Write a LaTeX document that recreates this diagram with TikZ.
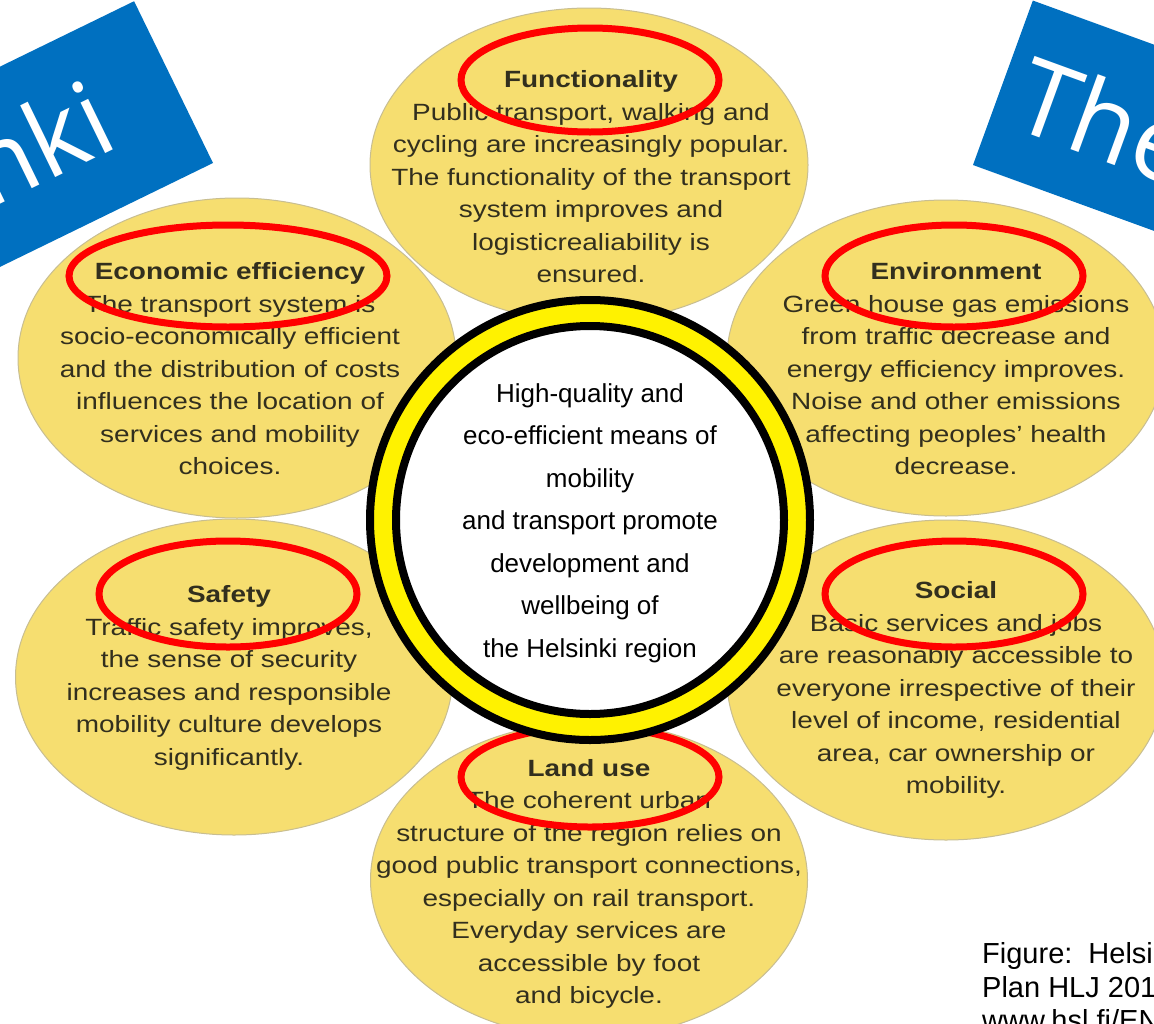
\documentclass[tikz,border=0pt]{standalone}
\usepackage{fontspec}
\setmainfont{Liberation Sans}
\newfontfamily\ellfont[FakeStretch=1.19]{Liberation Sans}
\newfontfamily\bannerfont{Open Sans}
\usetikzlibrary{shapes.geometric}
\definecolor{petal}{RGB}{246,222,112}
\definecolor{petaledge}{RGB}{200,190,145}
\definecolor{petaltext}{RGB}{50,47,30}
\definecolor{ringred}{RGB}{255,0,0}
\definecolor{bannerblue}{RGB}{0,112,192}
\begin{document}
\begin{tikzpicture}[x=1pt,y=1pt,
  petal/.style={ellipse, fill=petal, draw=petaledge, line width=1pt, inner sep=0pt},
  petaltxt/.style={align=center, text=petaltext, inner sep=0pt,
    font=\ellfont\fontsize{23.5}{32.5}\selectfont},
  highlight/.style={ellipse, draw=ringred, line width=7pt, inner sep=0pt},
  banner/.style={text=white, inner sep=0pt, transform shape,
    font=\bannerfont\fontsize{105}{110}\selectfont},
  caption/.style={anchor=base west, inner sep=0pt, font=\fontsize{29}{34}\selectfont}]
\fill[white] (0,0) rectangle (1154,-1023);
\useasboundingbox (0,0) rectangle (1154,-1023);

% tilted blue banners at the top corners
\begin{scope}[shift={(213,-163)}, rotate=26]
  \fill[bannerblue] (-420,0) rectangle (0,180);
  \node[banner, anchor=base east] (bannerL) at (-75,56) {nki};
\end{scope}
\begin{scope}[shift={(973,-165)}, rotate=-20]
  \fill[bannerblue] (0,0) rectangle (320,175);
  \node[banner, anchor=base west] (bannerR) at (20,48) {The};
\end{scope}

% the six goal petals
\node[petal, minimum width=438pt, minimum height=316pt] (env)    at (946,-358) {};
\node[petal, minimum width=438pt, minimum height=320pt] (social) at (946,-680) {};
\node[petal, minimum width=437pt, minimum height=316pt] (land)   at (589,-880) {};
\node[petal, minimum width=437pt, minimum height=316pt] (safety) at (234,-677) {};
\node[petal, minimum width=438pt, minimum height=320pt] (econ)   at (237,-358) {};
\node[petal, minimum width=438pt, minimum height=314pt] (func)   at (589,-165) {};

\node[petaltxt] (funcT) at (591,-177) {\textbf{Functionality}\\Public transport, walking and\\cycling are increasingly popular.\\The functionality of the transport\\system improves and\\logisticrealiability is\\ensured.};
\node[petaltxt] (econT) at (230,-369) {\textbf{Economic efficiency}\\The transport system is\\socio-economically efficient\\and the distribution of costs\\influences the location of\\services and mobility\\choices.};
\node[petaltxt] (envT) at (956,-369) {\textbf{Environment}\\Green house gas emissions\\from traffic decrease and\\energy efficiency improves.\\Noise and other emissions\\affecting peoples’ health\\decrease.};
\node[petaltxt] (safetyT) at (229,-678) {\textbf{Safety}\\Traffic safety improves,\\the sense of security\\increases and responsible\\mobility culture develops\\significantly.};
\node[petaltxt] (socialT) at (956,-690) {\textbf{Social}\\Basic services and jobs\\are reasonably accessible to\\everyone irrespective of their\\level of income, residential\\area, car ownership or\\mobility.};
\node[petaltxt] (landT) at (589,-884) {\textbf{Land use}\\The coherent urban\\structure of the region relies on\\good public transport connections,\\especially on rail transport.\\Everyday services are\\accessible by foot\\and bicycle.};

% red rings around the petal titles
\node[highlight, minimum width=258pt, minimum height=104pt] (funcR)   at (590,-80) {};
\node[highlight, minimum width=318pt, minimum height=102pt] (econR)   at (228,-276) {};
\node[highlight, minimum width=258pt, minimum height=102pt] (envR)    at (954,-276) {};
\node[highlight, minimum width=258pt, minimum height=106pt] (safetyR) at (228,-594) {};
\node[highlight, minimum width=258pt, minimum height=106pt] (socialR) at (954,-594) {};
\node[highlight, minimum width=258pt, minimum height=100pt] (landR)   at (590,-777) {};

% central vision disc
\node[circle, fill=yellow, draw=black, line width=8pt, minimum size=440pt, inner sep=0pt] (ring) at (590,-520) {};
\node[circle, fill=white, draw=black, line width=8pt, minimum size=388pt, inner sep=0pt] (core) at (590,-520) {};
\node[align=center, inner sep=0pt, font=\fontsize{26}{42.5}\selectfont] (vision) at (590,-523)
  {High-quality and\\eco-efficient means of\\mobility\\and transport promote\\development and\\wellbeing of\\the Helsinki region};

% source note
\node[caption] (cap1) at (982,-963) {Figure:\hspace{16pt}Helsi};
\node[caption] (cap2) at (982,-997) {Plan HLJ 201};
\node[caption] (cap3) at (982,-1030) {www.hsl.fi/EN};
\end{tikzpicture}
\end{document}
